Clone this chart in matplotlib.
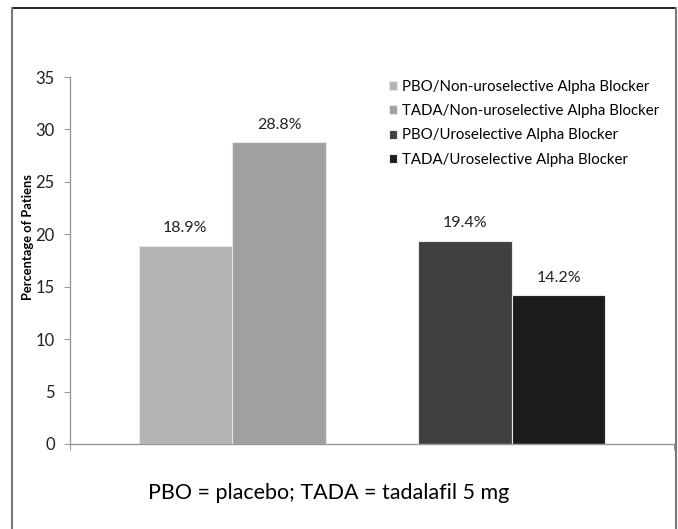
import matplotlib.pyplot as plt
from matplotlib.lines import Line2D

plt.rcParams['font.family'] = ['Lato', 'DejaVu Sans']

# data
series = ['PBO/Non-uroselective Alpha Blocker',
          'TADA/Non-uroselective Alpha Blocker',
          'PBO/Uroselective Alpha Blocker',
          'TADA/Uroselective Alpha Blocker']
values = [18.9, 28.8, 19.4, 14.2]
labels = ['18.9%', '28.8%', '19.4%', '14.2%']
colors = ['#b4b4b4', '#a0a0a0', '#404040', '#1c1c1c']

fig = plt.figure(figsize=(6.78, 5.29), dpi=100)
ax = fig.add_axes([70/678, 1 - 444/529, 604/678, (444 - 77)/529])

# two categories, two bars each
xpos = [0.382, 0.692, 1.308, 1.618]
w = 0.31
for x, v, c, s, lab in zip(xpos, values, colors, series, labels):
    ax.bar(x, v, w, color=c, edgecolor='#e8e8e8', linewidth=0.8, label=s)
    ax.text(x, v + 1.0, lab, ha='center', va='bottom', fontsize=11.5, color='#222222')

ax.set_xlim(0, 2)
ax.set_ylim(0, 35)
ax.set_yticks(range(0, 36, 5))
ax.set_xticks([0, 2])
ax.set_xticklabels(['', ''])
ax.tick_params(axis='both', direction='out', length=4, color='#999999',
               labelsize=12, labelcolor='#222222', pad=7)
for sp in ['top', 'right']:
    ax.spines[sp].set_visible(False)
for sp in ['left', 'bottom']:
    ax.spines[sp].set_color('#999999')
    ax.spines[sp].set_linewidth(1.0)

fig.text(28/678, 1 - 237/529, 'Percentage of Patiens', rotation=90,
         ha='center', va='center', fontsize=9.3, fontweight='bold')

ax.legend(loc='upper left', bbox_to_anchor=(389/678, 1 - 80/529),
          bbox_transform=fig.transFigure, frameon=False, fontsize=10.8,
          handlelength=0.55, handleheight=0.55, handletextpad=0.35,
          labelspacing=0.68, borderaxespad=0, borderpad=0)

fig.text(148/678, 1 - 493/529, 'PBO = placebo; TADA = tadalafil 5 mg',
         ha='left', va='center', fontsize=15.5)

# outer frame
fig.add_artist(Line2D([12/678, 676/678], [1 - 8/529, 1 - 8/529], color='black', lw=1.2))
fig.add_artist(Line2D([12/678, 12/678], [0, 1 - 8/529], color='#777777', lw=1.5))
fig.add_artist(Line2D([676/678, 676/678], [0, 1 - 8/529], color='#777777', lw=1.5))

fig.savefig('out.png', dpi=100)
